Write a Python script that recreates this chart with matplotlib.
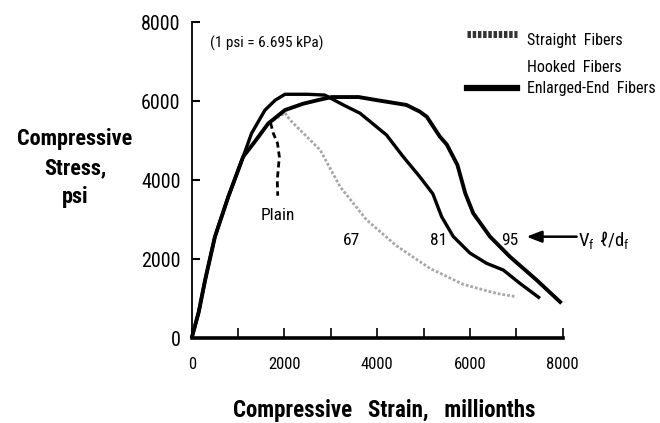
import matplotlib
matplotlib.use("Agg")
import matplotlib.pyplot as plt
import matplotlib.font_manager as fm

# ---------------- data ----------------
ascent_strain = [0, 150, 290, 500, 790, 1110, 1360, 1650, 2010]
ascent_stress = [0, 650, 1470, 2560, 3580, 4590, 4970, 5430, 5770]

straight_strain = [2010, 2120, 2770, 3200, 3770, 4420, 5140, 5850, 6570, 6970]
straight_stress = [5700, 5520, 4760, 3830, 2990, 2330, 1760, 1360, 1130, 1050]

hooked_strain = [1110, 1290, 1580, 1800, 2010, 2500, 2870, 3270, 3630, 4200,
                 4560, 4920, 5200, 5390, 5640, 6000, 6360, 6720, 7075, 7510]
hooked_stress = [4590, 5180, 5770, 6020, 6170, 6170, 6150, 5900, 5690, 5140,
                 4590, 4080, 3650, 3070, 2570, 2150, 1890, 1720, 1385, 1005]

enlarged_strain = [2010, 2400, 2730, 3020, 3600, 4000, 4630, 4920, 5070, 5350,
                   5500, 5730, 5900, 6070, 6430, 6860, 7435, 7975]
enlarged_stress = [5770, 5930, 6025, 6100, 6100, 6020, 5900, 5730, 5600, 5100,
                   4900, 4380, 3660, 3160, 2570, 2060, 1470, 880]

plain_strain = [1700, 1760, 1850, 1890, 1845, 1855]
plain_stress = [5450, 5180, 4930, 4590, 4000, 3600]

labels_text = ["Plain", "67", "81", "95"]
labels_x = [1860, 3450, 5320, 6860]
labels_y = [3110, 2480, 2480, 2480]

xticks_major = [0, 2000, 4000, 6000, 8000]
xticks_minor = [1000, 3000, 5000, 7000]
yticks_major = [0, 2000, 4000, 6000, 8000]

legend_labels = ["Straight  Fibers", "Hooked  Fibers", "Enlarged-End  Fibers"]

# ---------------- font choice (narrow face) ----------------
entries = fm.fontManager.ttflist
names = {f.name for f in entries}
FAMILY = 'DejaVu Sans'
STRETCH = 'normal'
for cand in ['Liberation Sans Narrow', 'Roboto Condensed', 'Open Sans Condensed',
             'Noto Sans Condensed', 'DejaVu Sans Condensed']:
    if cand in names:
        FAMILY = cand
        break
else:
    for f in entries:
        if f.name == 'DejaVu Sans' and str(f.stretch) in ('condensed', 'semi-condensed', '75', '87'):
            STRETCH = 'condensed'
            break
    else:
        for f in entries:
            if f.name in ('Roboto', 'Open Sans', 'Noto Sans') and str(f.stretch) not in ('normal', '500'):
                FAMILY = f.name
                STRETCH = 'condensed'
                break

FONT = [FAMILY, 'DejaVu Sans']
plt.rcParams['font.family'] = FONT
plt.rcParams['font.stretch'] = STRETCH

W, H = 660, 423
fig = plt.figure(figsize=(W / 100, H / 100), dpi=100)
x0, x1 = 191.7, 562.7
y0, y1 = 338, 22
ax = fig.add_axes([x0 / W, (H - y0) / H, (x1 - x0) / W, (y0 - y1) / H])
ax.set_xlim(0, 8000)
ax.set_ylim(0, 8000)

ax.spines['top'].set_visible(False)
ax.spines['right'].set_visible(False)
ax.spines['left'].set_linewidth(1.3)
ax.spines['bottom'].set_linewidth(2.6)

ax.set_xticks(xticks_major)
ax.set_xticks(xticks_minor, minor=True)
ax.set_yticks(yticks_major)
ax.tick_params(axis='x', which='both', direction='in', length=7, width=1.2,
               pad=14, labelsize=12)
ax.tick_params(axis='y', which='both', direction='in', length=6, width=1.5,
               pad=8, labelsize=14.5)
ax.set_xticklabels([str(v) for v in xticks_major])
ax.set_yticklabels([str(v) for v in yticks_major])

# curves
s_x = ascent_strain[:-1] + straight_strain
s_y = ascent_stress[:-1] + straight_stress
ax.plot(s_x, s_y, color='#a8a8a8', lw=2.0, ls=(0, (1, 0.7)), zorder=2,
        clip_on=False)

h_x = ascent_strain[:5] + hooked_strain
h_y = ascent_stress[:5] + hooked_stress
ax.plot(h_x, h_y, color='black', lw=2.4, zorder=3, clip_on=False,
        solid_capstyle='butt', solid_joinstyle='round')

e_x = ascent_strain[:-1] + enlarged_strain
e_y = ascent_stress[:-1] + enlarged_stress
ax.plot(e_x, e_y, color='black', lw=2.8, zorder=4, clip_on=False,
        solid_capstyle='butt', solid_joinstyle='round')

ax.plot(plain_strain, plain_stress, color='black', lw=2.0, ls=(0, (2.2, 1.4)),
        zorder=3)

for t, lx, ly in zip(labels_text, labels_x, labels_y):
    ax.text(lx, ly, t, fontsize=12.5, ha='center', va='center')

# arrow for Vf l/df
ax.annotate('', xy=(7220, 2565), xytext=(8300, 2565),
            arrowprops=dict(arrowstyle='-|>,head_length=0.9,head_width=0.35',
                            color='black', lw=1.8, shrinkA=0, shrinkB=0),
            annotation_clip=False)
fig.text(578 / W, 1 - 240 / H, r'$\mathregular{V_f\ \ell/d_f}$', fontsize=13.5,
         ha='left', va='center')

ax.text(394, 7460, '(1 psi = 6.695 kPa)', fontsize=11, ha='left',
        va='center')

# axis labels
fig.text(75 / W, 1 - 168 / H, 'Compressive\nStress,\npsi', fontsize=16,
         fontweight='bold', ha='center', va='center', linespacing=1.4,
         multialignment='center')
fig.text(384 / W, 1 - 410 / H, 'Compressive   Strain,   millionths',
         fontsize=16.5, fontweight='bold', ha='center', va='center')

# legend (manual)
leg_y = [34, 67, 88]
fig.lines.append(plt.Line2D([467 / W, 517 / W], [1 - leg_y[0] / H] * 2,
                            transform=fig.transFigure, color='#333333', lw=5,
                            ls=(0, (0.5, 0.25))))
fig.lines.append(plt.Line2D([467 / W, 517 / W], [1 - leg_y[2] / H] * 2,
                            transform=fig.transFigure, color='black', lw=4.5))
for lab, ly in zip(legend_labels, [40, 67, 89]):
    fig.text(527 / W, 1 - ly / H, lab, fontsize=11.5, ha='left', va='center')

fig.savefig('out.png', dpi=100)
